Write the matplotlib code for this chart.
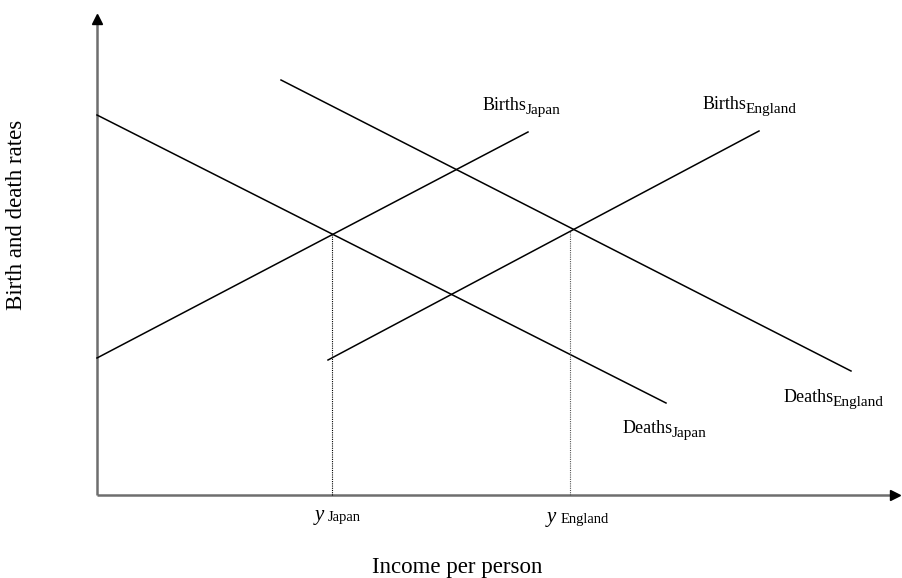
import matplotlib.pyplot as plt
from matplotlib.transforms import IdentityTransform

plt.rcParams['font.family'] = ['Liberation Serif', 'DejaVu Serif']

# line end points (income, rate)
deaths_japan = ([0, 569], [380, 92])
births_japan = ([0, 431], [137, 363])
births_england = ([231, 662], [135, 364])
deaths_england = ([184, 754], [415, 124])
y_japan = 235
y_england = 473

# curve labels: main text, subscript, position
curve_labels = [
    ('Births', 'Japan', (386, 385)),
    ('Births', 'England', (606, 386)),
    ('Deaths', 'England', (687, 93)),
    ('Deaths', 'Japan', (526, 62)),
]

fig = plt.figure(figsize=(9.03, 5.78), dpi=100)
ax = fig.add_axes([0, 0, 1, 1])
ax.set_xlim(-97, 806)
ax.set_ylim(-83, 495)
ax.axis('off')

# axes with arrow heads
ax.plot([0, 0], [0, 472], color='#6e6e6e', lw=1.8, solid_capstyle='butt')
ax.plot([0, 796], [0, 0], color='#6e6e6e', lw=1.8, solid_capstyle='butt')
ax.plot(0, 476, marker='^', color='black', ms=7, clip_on=False)
ax.plot(798, 0, marker='>', color='black', ms=7, clip_on=False)

for xs, ys in [deaths_japan, births_japan, births_england, deaths_england]:
    ax.plot(xs, ys, color='black', lw=1.1)


def line_at(line, x):
    (x0, x1), (y0, y1) = line
    return y0 + (y1 - y0) * (x - x0) / (x1 - x0)


ax.plot([y_japan, y_japan], [0, line_at(deaths_japan, y_japan)],
        color='black', lw=0.8, ls=(0, (1, 1)))
ax.plot([y_england, y_england], [0, line_at(births_england, y_england)],
        color='#555555', lw=0.8, ls=(0, (1, 1)))

renderer = fig.canvas.get_renderer()


def sub_label(main, sub, xy, fs_main, fs_sub, drop=5, gap=0, italic=False):
    t = ax.text(xy[0], xy[1], main, fontsize=fs_main, ha='left', va='baseline',
                style='italic' if italic else 'normal')
    bb = t.get_window_extent(renderer)
    bx, by = ax.transData.transform(xy)
    ax.text(bb.x1 + gap, by - drop, sub, fontsize=fs_sub, ha='left',
            va='baseline', transform=IdentityTransform())


for main, sub, xy in curve_labels:
    sub_label(main, sub, xy, 13, 11, drop=4, gap=-1.5)

sub_label('y', 'Japan', (218, -25), 15, 10.5, drop=1, gap=4, italic=True)
sub_label('y', 'England', (450, -27), 15, 10.5, drop=1, gap=4, italic=True)

ax.text(275, -78, 'Income per person', fontsize=16.5, ha='left', va='baseline')
ax.text(-80, 280, 'Birth and death rates', fontsize=16.5, ha='center', va='center',
        rotation=90)

fig.savefig('out.png', dpi=100)
